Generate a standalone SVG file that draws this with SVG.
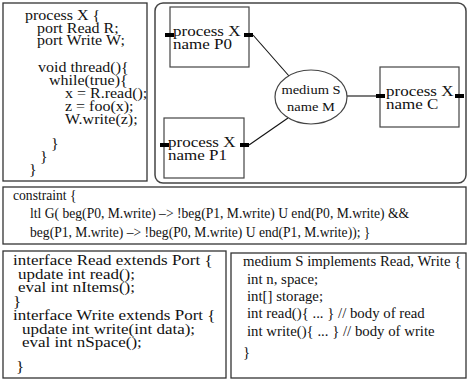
<svg xmlns="http://www.w3.org/2000/svg" width="469" height="381" viewBox="0 0 469 381">
  <style>
    text { font-family: "Liberation Serif", "Times New Roman", serif; fill: #111; }
    .frame { fill: #fff; stroke: #333; stroke-width: 1.3; }
    .panel { fill: none; stroke: #444; stroke-width: 1.5; }
    .node { fill: #fff; stroke: #444; stroke-width: 1.2; }
    .port { fill: #000; }
    .wire { stroke: #111; stroke-width: 1.1; fill: none; }
    .code16 { font-size: 16px; }
    .code17 { font-size: 17px; }
    .code15 { font-size: 14.8px; }
    .code13 { font-size: 13.6px; }
    .lbl { font-size: 17px; }
    .med { font-size: 14.5px; text-anchor: middle; }
  </style>
  <rect width="469" height="381" fill="#fff"/>

  <!-- process X source -->
  <g id="process-source">
    <rect class="frame" x="3" y="3" width="144" height="178"/>
    <text class="code16" transform="matrix(1 0 0 .86 25 20)">process X {</text>
    <text class="code16" transform="matrix(1 0 0 .86 37 33)">port Read R;</text>
    <text class="code16" transform="matrix(1 0 0 .86 37 45)">port Write W;</text>
    <text class="code16" transform="matrix(1 0 0 .86 38 72)">void thread(){</text>
    <text class="code16" transform="matrix(1 0 0 .86 49 85)">while(true){</text>
    <text class="code16" transform="matrix(1 0 0 .86 65 98)">x = R.read();</text>
    <text class="code16" transform="matrix(1 0 0 .86 65 111)">z = foo(x);</text>
    <text class="code16" transform="matrix(1 0 0 .86 65 124)">W.write(z);</text>
    <text class="code16" transform="matrix(1 0 0 .86 51 148)">}</text>
    <text class="code16" transform="matrix(1 0 0 .86 40 161)">}</text>
    <text class="code16" transform="matrix(1 0 0 .86 29 174)">}</text>
  </g>

  <!-- netlist panel -->
  <rect id="netlist-panel" class="panel" x="155" y="3" width="311" height="180" rx="8"/>

  <g id="connectors">
    <line class="wire" x1="253" y1="35" x2="289" y2="76"/>
    <line class="wire" x1="249" y1="145" x2="288" y2="118"/>
    <line class="wire" x1="347" y1="96" x2="376" y2="96"/>
  </g>

  <g id="P0">
    <rect class="node" x="170" y="7" width="79" height="60"/>
    <rect class="port" x="165" y="33" width="9" height="4"/>
    <rect class="port" x="244" y="33" width="9" height="4"/>
    <text class="lbl" transform="matrix(1 0 0 .84 173 36)">process X</text>
    <text class="lbl" transform="matrix(1 0 0 .84 173 49)">name P0</text>
  </g>

  <g id="P1">
    <rect class="node" x="164" y="118" width="80" height="60"/>
    <rect class="port" x="160" y="143" width="9" height="4"/>
    <rect class="port" x="240" y="143" width="9" height="4"/>
    <text class="lbl" transform="matrix(1 0 0 .84 168 147)">process X</text>
    <text class="lbl" transform="matrix(1 0 0 .84 168 160)">name P1</text>
  </g>

  <g id="M">
    <ellipse class="node" cx="311" cy="97" rx="36" ry="27"/>
    <text class="med" transform="matrix(1 0 0 .9 311 94)">medium S</text>
    <text class="med" transform="matrix(1 0 0 .9 311 111)">name M</text>
  </g>

  <g id="C">
    <rect class="node" x="380" y="67" width="79" height="60"/>
    <rect class="port" x="376" y="94" width="9" height="4"/>
    <rect class="port" x="455" y="94" width="9" height="4"/>
    <text class="lbl" transform="matrix(1 0 0 .84 386 96)">process X</text>
    <text class="lbl" transform="matrix(1 0 0 .84 386 109)">name C</text>
  </g>

  <!-- LTL constraint -->
  <g id="constraint">
    <rect class="frame" x="3" y="187" width="463" height="57"/>
    <text class="code13" x="13" y="200">constraint {</text>
    <text class="code13" x="30" y="218">ltl G( beg(P0, M.write) –&gt; !beg(P1, M.write) U end(P0, M.write) &amp;&amp;</text>
    <text class="code13" x="30" y="237">beg(P1, M.write) –&gt; !beg(P0, M.write) U end(P1, M.write)); }</text>
  </g>

  <!-- port interfaces -->
  <g id="interfaces">
    <rect class="frame" x="3" y="251" width="223" height="127"/>
    <text class="code17" transform="matrix(1 0 0 .82 13 265)">interface Read extends Port {</text>
    <text class="code17" transform="matrix(1 0 0 .82 18 279)">update int read();</text>
    <text class="code17" transform="matrix(1 0 0 .82 18 292)">eval int nItems();</text>
    <text class="code17" transform="matrix(1 0 0 .82 13 306)">}</text>
    <text class="code17" transform="matrix(1 0 0 .82 13 320)">interface Write extends Port {</text>
    <text class="code17" transform="matrix(1 0 0 .82 22 334)">update int write(int data);</text>
    <text class="code17" transform="matrix(1 0 0 .82 22 347)">eval int nSpace();</text>
    <text class="code17" transform="matrix(1 0 0 .82 16 371)">}</text>
  </g>

  <!-- medium implementation -->
  <g id="medium-source">
    <rect class="frame" x="231" y="253" width="235" height="125"/>
    <text class="code15" transform="matrix(1 0 0 .92 243 266)">medium S implements Read, Write {</text>
    <text class="code15" transform="matrix(1 0 0 .92 247 284)">int n, space;</text>
    <text class="code15" transform="matrix(1 0 0 .92 247 301)">int[] storage;</text>
    <text class="code15" transform="matrix(1 0 0 .92 247 318)">int read(){ ... } // body of read</text>
    <text class="code15" transform="matrix(1 0 0 .92 247 336)">int write(){ ... } // body of write</text>
    <text class="code15" transform="matrix(1 0 0 .92 243 357)">}</text>
  </g>
</svg>
